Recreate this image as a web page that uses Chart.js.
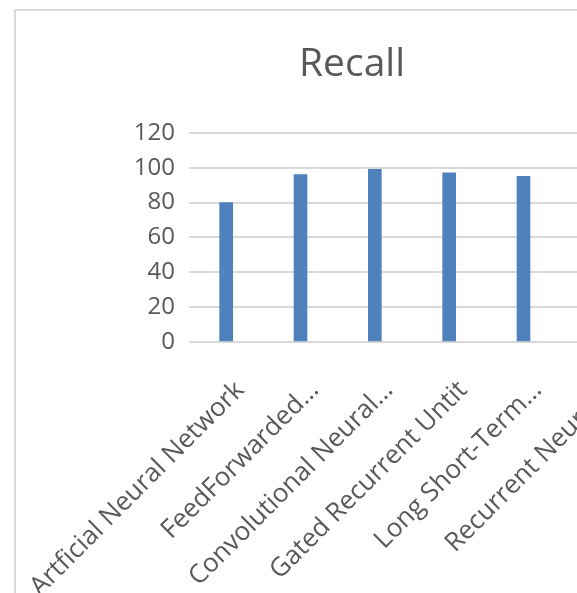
<!DOCTYPE html>
<html>
<head>
<meta charset="utf-8">
<script src="https://cdn.jsdelivr.net/npm/chart.js"></script>
<style>
  html, body { margin:0; padding:0; background:#fff; }
  #wrap { position:relative; width:577px; height:593px; overflow:hidden; background:#fff; }
  #frame { position:absolute; left:14px; top:9px; width:700px; height:700px;
           border-left:2px solid #d9d9d9; border-top:2px solid #d9d9d9; }
  #recall { position:absolute; left:16px; top:0; }
</style>
</head>
<body>
<div id="wrap">
  <div id="frame"></div>
  <canvas id="recall" width="619" height="593"></canvas>
</div>
<script>
// recall chart
const models = ['Artficial Neural Network', 'FeedForwarded…', 'Convolutional Neural…',
                'Gated Recurrent Untit', 'Long Short-Term…', 'Recurrent Neural…'];
const recall = [80, 96, 99, 97, 95, null]; // last bar is cut off in the picture
const yTicks = [0, 20, 40, 60, 80, 100, 120];

const txt = '#595959';
let ctx = document.getElementById('recall');
let recallChart = new Chart(ctx, {
    type: 'bar',
    data: {
        labels: models,
        datasets: [{
            label: 'Recall',
            data: recall,
            backgroundColor: '#4F81BD',
            borderWidth: 0,
            barThickness: 13
        }]
    },
    options: {
        responsive: false,
        animation: false,
        layout: { padding: { left: 53, right: 0, top: 0, bottom: 0 } },
        plugins: {
            legend: { display: false },
            tooltip: { enabled: false },
            title: {
                display: true,
                text: 'Recall',
                color: txt,
                font: { family: 'Open Sans', size: 39, weight: 'normal', lineHeight: 1.2 },
                padding: { top: 41, bottom: 45 }
            }
        },
        scales: {
            x: {
                offset: true,
                grid: { display: false },
                border: { display: false },
                afterFit: function(s) {
                    s.height = 251;
                    s.paddingLeft = 0;
                    s.paddingRight = 0;
                },
                ticks: {
                    autoSkip: false,
                    minRotation: 45,
                    maxRotation: 45,
                    labelOffset: 14,
                    padding: 25,
                    color: txt,
                    font: { family: 'Open Sans', size: 26 }
                }
            },
            y: {
                min: yTicks[0],
                max: yTicks[yTicks.length - 1],
                afterFit: function(s) { s.width = 120; },
                afterBuildTicks: function(s) { s.ticks = yTicks.map(v => ({ value: v })); },
                grid: { color: '#d9d9d9', lineWidth: 2, drawTicks: false },
                border: { display: false },
                ticks: {
                    padding: 14,
                    color: txt,
                    font: { family: 'Open Sans', size: 24 }
                }
            }
        }
    }
});
</script>
</body>
</html>
